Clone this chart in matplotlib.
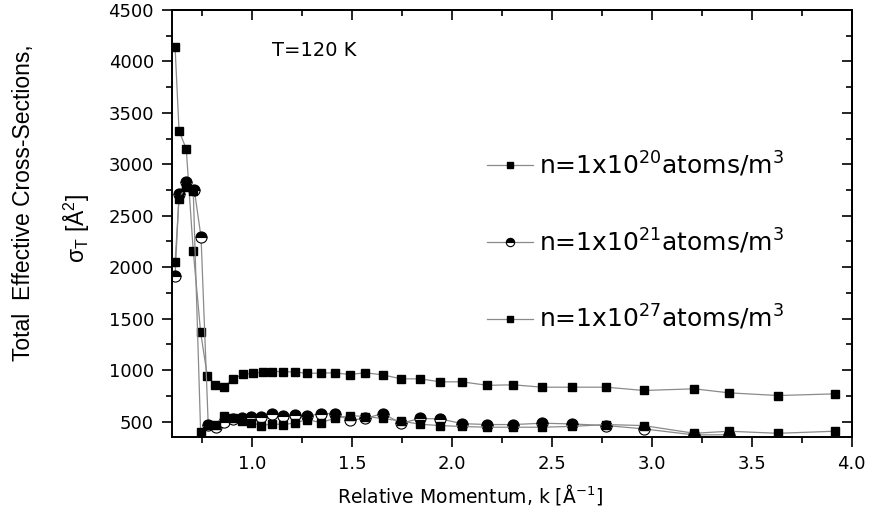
import matplotlib.pyplot as plt
from matplotlib.ticker import MultipleLocator

# the source image is stretched sideways, so the wider DejaVu Sans is used
# for horizontal text and Liberation Sans (Arial-like) for the rotated label
plt.rcParams['font.family'] = ['DejaVu Sans']
plt.rcParams['mathtext.fontset'] = 'dejavusans'

# ---- data ----
k_20 = [0.615, 0.635, 0.671, 0.706, 0.743, 0.776, 0.814, 0.861, 0.906, 0.956,
        1.005, 1.055, 1.10, 1.155, 1.213, 1.275, 1.343, 1.413, 1.488, 1.566,
        1.654, 1.746, 1.840, 1.942, 2.05, 2.178, 2.307, 2.452, 2.60, 2.773,
        2.959, 3.213, 3.386, 3.632, 3.915]
sig_20 = [4141, 3324, 3149, 2157, 1366, 947, 860, 840, 915, 960,
          970, 978, 986, 986, 980, 970, 970, 974, 957, 974,
          954, 915, 915, 886, 886, 852, 857, 834, 834, 834,
          802, 818, 779, 753, 769]

k_21 = [0.615, 0.635, 0.668, 0.711, 0.745, 0.781, 0.818, 0.861, 0.906, 0.95,
        0.997, 1.047, 1.10, 1.155, 1.213, 1.275, 1.343, 1.413, 1.488, 1.566,
        1.654, 1.746, 1.840, 1.942, 2.05, 2.178, 2.307, 2.452, 2.60, 2.773,
        2.959, 3.213, 3.386]
sig_21 = [1911, 2715, 2828, 2754, 2293, 468, 445, 493, 526, 536,
          542, 542, 578, 552, 568, 552, 578, 578, 513, 530,
          578, 484, 530, 526, 480, 471, 471, 484, 477, 461,
          429, 370, 372]

k_27 = [0.615, 0.635, 0.668, 0.706, 0.743, 0.781, 0.818, 0.861, 0.906, 0.95,
        0.997, 1.047, 1.10, 1.155, 1.213, 1.275, 1.343, 1.413, 1.488, 1.566,
        1.654, 1.746, 1.840, 1.942, 2.05, 2.178, 2.307, 2.452, 2.60, 2.773,
        2.959, 3.213, 3.386, 3.632, 3.915]
sig_27 = [2050, 2667, 2780, 2740, 396, 470, 470, 558, 536, 510,
          490, 461, 477, 471, 485, 520, 490, 530, 558, 549,
          530, 505, 474, 461, 452, 445, 445, 445, 453, 471,
          461, 386, 406, 386, 406]

labels = [r'n=1x10$^{20}$atoms/m$^{3}$',
          r'n=1x10$^{21}$atoms/m$^{3}$',
          r'n=1x10$^{27}$atoms/m$^{3}$']

LINE = '#8a8a8a'

fig = plt.figure(figsize=(8.69, 5.19), dpi=100)
ax = fig.add_axes([0.198, 0.158, 0.782, 0.823])

ax.plot(k_20, sig_20, color=LINE, lw=0.9, marker='s', ms=5.5,
        mfc='black', mec='black', label=labels[0])
ax.plot(k_21, sig_21, color=LINE, lw=0.9, marker='o', ms=8,
        fillstyle='top', mfc='black', mfcalt='white', mec='black', mew=0.8,
        label=labels[1])
ax.plot(k_27, sig_27, color=LINE, lw=0.9, marker='s', ms=5.5,
        mfc='black', mec='black', label=labels[2])

ax.set_xlim(0.6, 4.0)
ax.set_ylim(350, 4500)

ax.xaxis.set_major_locator(MultipleLocator(0.5))
ax.xaxis.set_minor_locator(MultipleLocator(0.25))
ax.yaxis.set_major_locator(MultipleLocator(500))
ax.yaxis.set_minor_locator(MultipleLocator(250))
ax.xaxis.set_major_formatter(plt.FormatStrFormatter('%.1f'))

ax.tick_params(which='both', direction='out', labelsize=13, width=1.2, pad=5.5)
ax.tick_params(which='major', length=7.5)
ax.tick_params(which='minor', length=4.5)

# inward ticks on top and right, no labels
top = ax.secondary_xaxis('top')
top.xaxis.set_major_locator(MultipleLocator(0.5))
top.xaxis.set_minor_locator(MultipleLocator(0.25))
top.tick_params(which='both', direction='in', labeltop=False, width=1.2)
top.tick_params(which='major', length=7)
top.tick_params(which='minor', length=4)
right = ax.secondary_yaxis('right')
right.yaxis.set_major_locator(MultipleLocator(500))
right.yaxis.set_minor_locator(MultipleLocator(250))
right.tick_params(which='both', direction='in', labelright=False, width=1.2)
right.tick_params(which='major', length=7)
right.tick_params(which='minor', length=4)

for s in ax.spines.values():
    s.set_linewidth(1.4)
top.spines['top'].set_linewidth(1.4)
right.spines['right'].set_linewidth(1.4)

ax.set_xlabel(r'Relative Momentum, k [Å$^{-1}$]', fontsize=13.5)
ax.xaxis.set_label_coords(0.438, -0.105)
fig.text(0.027, 0.61, 'Total  Effective Cross-Sections,', rotation=90,
         fontsize=16.5, ha='center', va='center', family='Liberation Sans')
fig.text(0.088, 0.56, r'σ$_\mathregular{T}$ [Å$^\mathregular{2}$]', rotation=90,
         fontsize=16.5, ha='center', va='center', family='Liberation Sans')

ax.text(0.147, 0.906, 'T=120 K', transform=ax.transAxes, fontsize=14,
        ha='left', va='center')

leg = ax.legend(loc='upper left', bbox_to_anchor=(0.43, 0.725), frameon=False,
                fontsize=18, labelspacing=1.9, handlelength=1.85,
                handletextpad=0.25, markerscale=0.75)

plt.savefig('out.png', dpi=100, facecolor='white')
plt.close()
